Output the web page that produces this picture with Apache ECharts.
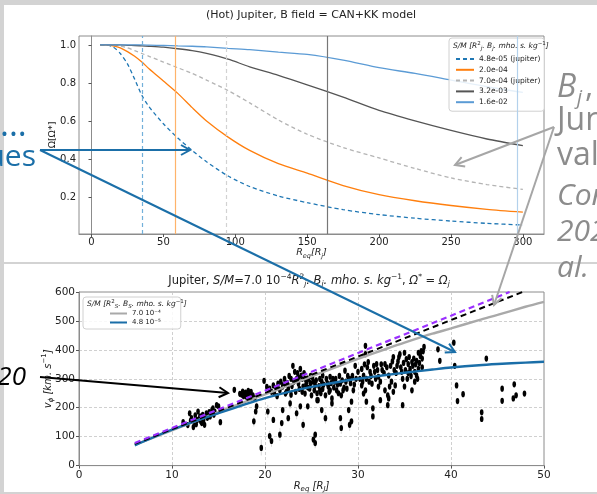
<!DOCTYPE html>
<html>
<head>
<meta charset="utf-8">
<script src="https://cdn.jsdelivr.net/npm/echarts@6/dist/echarts.min.js"></script>
<style>
  html, body { margin: 0; padding: 0; background: #d3d3d3; }
  #root1 { width: 597px; height: 494px; }
</style>
</head>
<body>
<div id="root1"></div>
<script>
// top panel: normalised angular velocity vs equatorial radius
const radiiTop = [6, 10, 15, 20, 25, 30, 35, 40, 50, 60, 70, 80, 95, 110, 130, 150, 175, 200, 225, 250, 275, 300];
const omega48e5 = [1.0, 1.0, 0.99, 0.955, 0.90, 0.82, 0.735, 0.675, 0.585, 0.51, 0.445, 0.385, 0.31, 0.255, 0.205, 0.17, 0.133, 0.107, 0.088, 0.073, 0.061, 0.052];
const omega20e4 = [1.0, 1.0, 0.995, 0.985, 0.965, 0.94, 0.91, 0.875, 0.81, 0.745, 0.67, 0.60, 0.515, 0.445, 0.375, 0.325, 0.26, 0.212, 0.18, 0.155, 0.135, 0.12];
const omega70e4 = [1.0, 1.0, 1.0, 0.995, 0.985, 0.97, 0.955, 0.94, 0.91, 0.88, 0.85, 0.815, 0.76, 0.695, 0.605, 0.53, 0.46, 0.405, 0.35, 0.30, 0.265, 0.24];
const omega32e3 = [1.0, 1.0, 1.0, 1.0, 0.998, 0.997, 0.995, 0.993, 0.988, 0.98, 0.97, 0.955, 0.925, 0.885, 0.84, 0.79, 0.725, 0.655, 0.60, 0.55, 0.505, 0.47];
const omega16e2 = [1.0, 1.0, 1.0, 1.0, 1.0, 1.0, 1.0, 0.999, 0.997, 0.995, 0.993, 0.99, 0.982, 0.975, 0.962, 0.95, 0.92, 0.88, 0.85, 0.815, 0.78, 0.75];
const alfvenRadii = [35, 58.5, 94, 164, 296];
const topNames = ['4.8e-05 (jupiter)', '2.0e-04', '7.0e-04 (jupiter)', '3.2e-03', '1.6e-02'];
const topTicksX = [0, 50, 100, 150, 200, 250, 300];
const topTicksY = [0.2, 0.4, 0.6, 0.8, 1.0];

// bottom panel: azimuthal velocity vs equatorial radius
const radiiBottom = [6, 8, 10, 12, 15, 18, 20, 23, 25, 28, 30, 33, 35, 38, 40, 43, 45, 48, 50];
const vModel70e4 = [72, 97, 122, 147, 185, 222, 246, 283, 308, 345, 369, 403, 425, 456, 474, 503, 521, 549, 566];
const vModel48e5 = [70, 98, 124, 148, 181, 213, 233, 258, 272, 290, 300, 313, 321, 332, 339, 347, 351, 356, 359];
const corotR = [6, 10, 20, 30, 40, 47.7];
const corotV = [75, 126, 251, 377, 503, 600];
const juno2020R = [6, 10, 20, 30, 40, 46.3];
const juno2020V = [78, 130, 259, 389, 518, 600];
const bottomNames = ['7.0 10⁻⁴', '4.8 10⁻⁵'];

const observed = [
  [11.2,150],[11.7,140],[11.9,181],[12.1,164],[12.3,133],[12.5,174],[12.7,158],[12.8,187],[13.0,170],[13.2,147],
  [13.4,158],[13.5,141],[13.7,181],[14.1,170],[14.3,192],[14.4,198],[14.6,187],[14.8,209],[15.0,205],[15.2,150],
  [12.0,155],[12.4,150],[12.9,160],[13.3,175],[13.8,165],[14.0,185],[14.5,176],[13.1,152],[12.6,143],
  [16.7,262],[17.3,248],[17.6,256],[17.7,240],[17.9,252],[18.0,238],[18.2,258],[18.4,245],[18.6,236],[18.9,232],
  [17.5,245],[18.1,250],[18.3,235],[18.5,255],[18.7,243],
  [18.8,153],[19.0,187],[19.1,205],[19.6,61],[19.9,293],[20.2,272],
  [20.3,187],[20.5,266],[20.9,277],[20.9,158],[20.5,102],[20.7,85],[21.4,283],[21.6,260],[21.6,107],[21.8,147],
  [21.9,273],[21.9,192],[22.2,249],[22.5,266],[22.5,164],[22.7,215],[23.0,345],[23.2,324],[23.4,300],[23.4,181],
  [23.6,283],[23.8,334],[23.8,205],[23.9,311],[24.1,273],[24.1,141],[24.3,249],[24.5,290],[24.6,205],[24.8,266],
  [25.0,243],[25.2,90],[25.4,277],[25.4,107],[25.4,78],[25.6,226],[25.7,226],[25.9,260],[26.1,290],[26.1,192],
  [26.2,311],[26.5,243],[26.5,164],[26.8,273],[27.0,307],[27.2,232],[27.2,215],[27.5,290],[27.7,260],[28.1,283],
  [28.1,164],[28.2,243],[28.2,130],[28.6,328],[28.8,266],[29.0,192],[29.1,300],[29.1,141],[29.3,221],[29.3,153],
  [29.7,345],[30.0,324],[30.4,277],
  [22.8,300],[23.1,290],[23.5,320],[23.7,265],[24.0,300],[24.2,320],[24.4,280],[24.7,300],[24.9,285],[25.1,305],
  [25.3,260],[25.5,295],[25.8,275],[26.0,250],[26.3,280],[26.6,300],[26.9,255],[27.1,285],[27.4,270],[27.6,300],
  [27.9,250],[28.3,295],[28.5,270],[28.9,310],[29.2,285],[29.5,260],[29.8,300],[21.0,250],[21.2,268],[20.7,255],
  [22.0,280],[22.3,255],[22.8,245],
  [21.3,240],[21.7,290],[22.1,300],[22.4,285],[22.6,310],[22.9,275],[23.3,255],[23.6,305],[24.0,255],[24.3,300],
  [24.6,270],[24.9,310],[25.2,290],[25.6,250],[25.9,300],[26.2,265],[26.7,285],[27.0,260],[27.3,300],[27.8,280],
  [28.0,310],[28.4,260],[28.7,290],[29.4,310],[29.6,280],[30.2,300],[30.5,290],
  [30.4,334],[30.6,311],[30.6,249],[30.8,414],[30.8,385],[30.8,260],[30.9,300],[30.9,221],[31.1,358],[31.3,324],
  [31.5,283],[31.6,198],[31.6,170],[31.8,324],[32.0,351],[32.2,307],[32.2,273],[32.4,226],[32.9,351],[32.9,260],
  [33.2,243],[33.2,209],[33.3,311],[33.3,232],[33.4,273],[33.6,290],[33.8,375],[33.8,255],[34.0,277],[34.2,345],
  [34.5,385],[34.7,324],[34.8,300],[34.8,209],[35.0,273],[35.2,368],[35.4,351],[35.6,334],[35.8,358],[35.8,260],
  [35.9,345],[36.1,324],[36.1,290],[36.3,362],[36.3,311],[36.5,334],[36.7,379],[36.8,396],[37.1,410],[38.6,402],
  [38.8,362],
  [34.3,360],[34.6,340],[35.1,330],[35.5,375],[35.7,310],[36.0,370],[36.2,350],[36.4,300],[36.6,355],[36.9,340],
  [35.3,300],[34.9,355],[33.9,330],[33.5,345],[32.6,330],[32.4,290],[31.9,300],[31.2,290],[30.7,350],
  [31.0,340],[31.4,310],[31.7,345],[32.1,330],[32.5,350],[32.8,320],[33.1,340],[33.7,360],[34.1,320],[34.4,375],
  [35.0,390],[35.4,320],[36.5,390],[36.9,370],[37.0,395],
  [40.3,425],[40.4,345],[40.6,277],[40.7,223],[41.3,247],[43.3,184],[43.3,161],[43.8,370],[45.5,266],[45.5,224],
  [46.8,281],[46.7,232],[47.0,243],[47.9,249]
];
const observedErr = [
  [19.6,35,90],[20.5,85,120],[20.7,65,105],[21.6,85,130],[25.4,60,100],[25.2,70,110],[22.7,195,235],[24.1,120,160],
  [26.5,145,185],[28.2,110,150],[20.3,165,210],[19.1,185,225],[18.8,135,170],[29.1,120,160],[23.4,160,200]
];

const zip = (xs, ys) => xs.map((x, i) => [x, ys[i]]);
const ink = '#222';
const font = 'DejaVu Sans';

const topStyles = [
  { c: '#1f77b4', t: 'dashed', vc: '#72b0da', vt: 'dashed' },
  { c: '#ff7f0e', t: 'solid', vc: '#ffb36b', vt: 'solid' },
  { c: '#b4b4b4', t: 'dashed', vc: '#d2d2d2', vt: 'dashed' },
  { c: '#555555', t: 'solid', vc: '#777777', vt: 'solid' },
  { c: '#5b9bd5', t: 'solid', vc: '#b3d1ec', vt: 'solid' }
];
const topData = [omega48e5, omega20e4, omega70e4, omega32e3, omega16e2];

const topSeries = topData.map((vals, i) => ({
  name: topNames[i],
  type: 'line',
  xAxisIndex: 0,
  yAxisIndex: 0,
  data: zip(radiiTop, vals),
  symbol: 'none',
  smooth: 0.25,
  lineStyle: { color: topStyles[i].c, width: 1.3, type: topStyles[i].t === 'dashed' ? [4, 3] : 'solid' },
  itemStyle: { color: topStyles[i].c },
  markLine: {
    silent: true,
    symbol: 'none',
    label: { show: false },
    lineStyle: { color: topStyles[i].vc, width: 1.2, type: topStyles[i].vt === 'dashed' ? [4, 3] : 'solid' },
    data: [{ xAxis: alfvenRadii[i] }]
  }
}));

// annotation helpers (slide overlay)
function arrow(x1, y1, x2, y2, color, w) {
  const dx = x2 - x1, dy = y2 - y1, L = Math.hypot(dx, dy);
  const ux = dx / L, uy = dy / L, h = 9, s = 5;
  const b1 = [x2 - ux * h - uy * s, y2 - uy * h + ux * s];
  const b2 = [x2 - ux * h + uy * s, y2 - uy * h - ux * s];
  return [
    { type: 'polyline', z: 100, shape: { points: [[x1, y1], [x2, y2]] }, style: { stroke: color, lineWidth: w, fill: null } },
    { type: 'polyline', z: 100, shape: { points: [b1, [x2, y2], b2] }, style: { stroke: color, lineWidth: w, fill: null } }
  ];
}
function txt(x, y, text, size, color, italic, align) {
  return {
    type: 'text', z: 100, x: x, y: y,
    style: { text: text, fill: color, font: (italic ? 'italic ' : '') + size + 'px "Open Sans"', verticalAlign: 'middle', align: align || 'left' }
  };
}
const mathRich = (size, small) => ({
  i: { fontStyle: 'italic', fontSize: size, fontFamily: font, color: ink },
  sup: { fontSize: small, fontFamily: font, color: ink, padding: [0, 0, Math.round(size * 0.7), 0] },
  sub: { fontSize: small, fontFamily: font, fontStyle: 'italic', color: ink, padding: [Math.round(size * 0.6), 0, 0, 0] }
});

const blue = '#1b6fa8';
const grayAnn = '#8c8c8c';

const graphics = [
  // panel backgrounds
  { type: 'rect', z: -10, shape: { x: 4, y: 5, width: 593, height: 257 }, style: { fill: '#fff' } },
  { type: 'rect', z: -10, shape: { x: 4, y: 264, width: 593, height: 228 }, style: { fill: '#fff' } },
  // titles
  { type: 'text', z: 50, x: 311, y: 15, style: { text: '(Hot) Jupiter, B field = CAN+KK model', fill: ink, font: '11px "DejaVu Sans"', align: 'center', verticalAlign: 'middle' } },
  { type: 'text', z: 50, x: 309, y: 281, style: {
      text: 'Jupiter, {i|S/M}=7.0 10{sup|−4}{i|R}{sup|2}{sub|j}{i|. B}{sub|j}{i|. mho. s. kg}{sup|−1}, {i|Ω}{sup|*} = {i|Ω}{sub|j}',
      fill: ink, font: '11.5px "DejaVu Sans"', align: 'center', verticalAlign: 'middle',
      rich: mathRich(11.5, 7.5)
  } },
  // legend titles
  { type: 'text', z: 50, x: 453, y: 46, style: {
      text: '{i|S/M [R}{sup|2}{sub|j}{i|. B}{sub|j}{i|. mho. s. kg}{sup|−1}{i|]}',
      fill: ink, font: '8px "DejaVu Sans"', verticalAlign: 'middle', rich: mathRich(7.5, 5.5)
  } },
  { type: 'text', z: 50, x: 87, y: 304, style: {
      text: '{i|S/M [R}{sup|2}{sub|S}{i|. B}{sub|S}{i|. mho. s. kg}{sup|−1}{i|]}',
      fill: ink, font: '8px "DejaVu Sans"', verticalAlign: 'middle', rich: mathRich(7.5, 5.5)
  } },
  // slide annotations
  txt(0, 126, '...', 34, blue),
  txt(36, 157, 'values', 30, blue, false, 'right'),
  txt(557, 88, 'B', 32, grayAnn, true),
  txt(577, 98, 'j', 20, grayAnn, true),
  txt(585, 88, ',', 32, grayAnn),
  txt(557, 121, 'Jun', 32, grayAnn),
  txt(557, 156, 'val', 32, grayAnn),
  txt(557, 196, 'Con', 30, grayAnn, true),
  txt(557, 232, '202', 30, grayAnn, true),
  txt(557, 268, 'al.', 30, grayAnn, true),
  txt(26, 378, '20', 26, '#000', true, 'right')
].concat(
  arrow(40, 150, 190, 150, blue, 2),
  arrow(40, 150, 455, 352, blue, 2),
  arrow(554, 127, 455, 165, '#a6a6a6', 2),
  arrow(554, 127, 494, 305, '#a6a6a6', 2),
  arrow(40, 377, 228, 393, '#000', 2)
);

const myChart = echarts.init(document.getElementById('root1'));
const option = {
  backgroundColor: '#d3d3d3',
  animation: false,
  textStyle: { fontFamily: font },
  grid: [
    { left: 79, top: 36, width: 465, height: 198, show: true, borderColor: '#8c8c8c', borderWidth: 1 },
    { left: 79, top: 292, width: 465, height: 176, show: true, borderColor: '#8c8c8c', borderWidth: 1 }
  ],
  xAxis: [
    {
      gridIndex: 0, type: 'value', min: -8.7, max: 314.7,
      axisLine: { show: true, lineStyle: { color: '#8c8c8c' } },
      axisTick: { show: true, length: 3, customValues: topTicksX, lineStyle: { color: '#555' } },
      axisLabel: { customValues: topTicksX, margin: 3, fontSize: 10, color: ink },
      splitLine: { show: false },
      name: '{i|R}{sub|eq}{i|[R}{sub|j}{i|]}', nameLocation: 'middle', nameGap: 12,
      nameTextStyle: { rich: mathRich(9.5, 6.5) }
    },
    {
      gridIndex: 1, type: 'value', min: 0, max: 50, interval: 10,
      axisLine: { show: true, lineStyle: { color: '#8c8c8c' } },
      axisTick: { show: true, length: 3, lineStyle: { color: '#555' } },
      axisLabel: { margin: 4, fontSize: 10.5, color: ink },
      splitLine: { show: true, lineStyle: { color: '#c4c4c4', width: 0.8, type: [3, 2] } },
      name: '{i|R}{sub|eq}{i| [R}{sub|J}{i|]}', nameLocation: 'middle', nameGap: 14,
      nameTextStyle: { rich: mathRich(10, 7) }
    }
  ],
  yAxis: [
    {
      gridIndex: 0, type: 'value', min: 0.005, max: 1.047,
      axisLine: { show: true, lineStyle: { color: '#8c8c8c' } },
      axisTick: { show: true, length: 3, customValues: topTicksY, lineStyle: { color: '#555' } },
      axisLabel: { customValues: topTicksY, margin: 3, fontSize: 10, color: ink, formatter: v => v.toFixed(1) },
      splitLine: { show: false },
      name: 'Ω[Ω*]', nameLocation: 'middle', nameGap: 21, nameRotate: 90, nameMoveOverlap: false,
      nameTextStyle: { fontSize: 9.5, color: ink }
    },
    {
      gridIndex: 1, type: 'value', min: 0, max: 600, interval: 100,
      axisLine: { show: true, lineStyle: { color: '#8c8c8c' } },
      axisTick: { show: true, length: 3, lineStyle: { color: '#555' } },
      axisLabel: { margin: 4, fontSize: 10.5, color: ink },
      splitLine: { show: true, lineStyle: { color: '#c4c4c4', width: 0.8, type: [3, 2] } },
      name: '{i|v}{sub|ϕ}{i| [km. s}{sup|−1}{i|]}', nameLocation: 'middle', nameGap: 24, nameRotate: 90, nameMoveOverlap: false,
      nameTextStyle: { rich: mathRich(10, 7) }
    }
  ],
  legend: [
    {
      data: topNames, orient: 'vertical', left: 449, top: 38,
      padding: [17, 4, 5, 6], itemWidth: 18, itemHeight: 8, itemGap: 2.8,
      itemStyle: { opacity: 0 },
      textStyle: { fontSize: 7.5, color: ink },
      borderColor: '#d0d0d0', borderWidth: 1, borderRadius: 3, backgroundColor: 'rgba(255,255,255,0.85)'
    },
    {
      data: bottomNames, orient: 'vertical', left: 83, top: 297,
      padding: [13, 20, 3, 26], itemWidth: 17, itemHeight: 8, itemGap: 2,
      itemStyle: { opacity: 0 },
      textStyle: { fontSize: 7, color: ink },
      borderColor: '#d0d0d0', borderWidth: 1, borderRadius: 3, backgroundColor: 'rgba(255,255,255,0.85)'
    }
  ],
  graphic: graphics,
  series: topSeries.concat([
    {
      type: 'custom', xAxisIndex: 1, yAxisIndex: 1, z: 1,
      data: observedErr,
      encode: { x: 0, y: [1, 2] },
      renderItem: function (params, api) {
        const p1 = api.coord([api.value(0), api.value(1)]);
        const p2 = api.coord([api.value(0), api.value(2)]);
        return { type: 'line', shape: { x1: p1[0], y1: p1[1], x2: p2[0], y2: p2[1] }, style: { stroke: '#cfcfcf', lineWidth: 0.8 } };
      }
    },
    {
      type: 'scatter', xAxisIndex: 1, yAxisIndex: 1, z: 2,
      data: observed, symbol: 'circle', symbolSize: [3.6, 6.2],
      itemStyle: { color: '#000', opacity: 1 }
    },
    {
      name: bottomNames[0], type: 'line', xAxisIndex: 1, yAxisIndex: 1, z: 3,
      data: zip(radiiBottom, vModel70e4), symbol: 'none', smooth: 0.3,
      lineStyle: { color: '#a9a9a9', width: 2.4 }, itemStyle: { color: '#a9a9a9' }
    },
    {
      name: bottomNames[1], type: 'line', xAxisIndex: 1, yAxisIndex: 1, z: 3,
      data: zip(radiiBottom, vModel48e5), symbol: 'none', smooth: 0.3,
      lineStyle: { color: '#1a6ea8', width: 2.4 }, itemStyle: { color: '#1a6ea8' }
    },
    {
      name: 'corotation', type: 'line', xAxisIndex: 1, yAxisIndex: 1, z: 4,
      data: zip(corotR, corotV), symbol: 'none',
      lineStyle: { color: '#000', width: 2, type: [6, 4] }
    },
    {
      name: 'Juno 2020', type: 'line', xAxisIndex: 1, yAxisIndex: 1, z: 4,
      data: zip(juno2020R, juno2020V), symbol: 'none',
      lineStyle: { color: '#9b30ff', width: 2.2, type: [6, 4] }
    }
  ])
};

myChart.setOption(option);
</script>
</body>
</html>
